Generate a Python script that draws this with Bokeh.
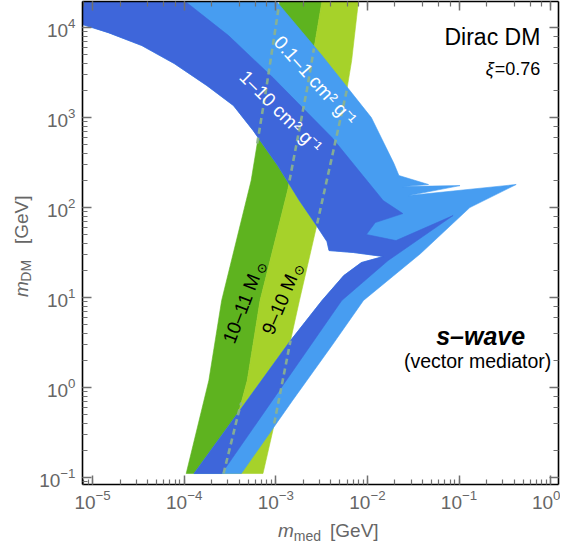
import math
import numpy as np
from bokeh.plotting import figure
from bokeh.layouts import row, column
from bokeh.models import Range1d, LogAxis, Label, CustomJSTickFormatter, LogTickFormatter, Div
from bokeh.embed import file_html
from bokeh.resources import INLINE

# ---------------- data: log10(m_med / GeV), log10(m_DM / GeV) ----------------
x_log_lim = [-5.11, 0.086]
y_log_lim = [-1.078, 4.29]

# halo-mass bands (edges listed from top to bottom)
halo_left_lx = [-2.935, -2.957, -3.108, -3.269, -3.591, -3.731, -3.978]
halo_left_ly = [4.411, 4.30, 3.30, 2.30, 0.967, 0.078, -0.956]
halo_mid_lx = [-2.473, -2.495, -2.656, -2.871, -3.172, -3.312, -3.409, -3.570]
halo_mid_ly = [4.411, 4.30, 3.333, 2.189, 0.967, 0.078, -0.289, -0.956]
halo_right_lx = [-2.065, -2.097, -2.172, -2.226, -2.548, -2.742, -2.839, -3.032, -3.140]
halo_right_ly = [4.411, 4.30, 3.633, 3.30, 1.822, 0.967, 0.522, -0.478, -0.956]

# parts of the halo edges that lie under the cross-section bands (log10 m_DM ranges)
left_hidden = [[2.711, 4.244]]
mid_hidden = [[2.30, 3.767], [-0.956, -0.167]]
right_hidden = [[1.822, 3.32], [-0.40, 0.522]]

# cross-section bands: common inner boundary (from the bottom, up to the left axis)
sig_inner_lx = [-3.892, -2.839, -2.495, -2.258, -2.065, -1.828, -2.151, -2.419, -2.441,
                -2.570, -2.742, -2.978, -3.247, -3.462, -3.753, -4.108, -4.462, -4.828,
                -5.108, -5.25]
sig_inner_ly = [-0.956, 0.522, 0.967, 1.244, 1.389, 1.456, 1.500, 1.522, 1.622,
                1.822, 2.078, 2.467, 2.856, 3.133, 3.356, 3.600, 3.800, 3.944,
                4.033, 4.08]
# outer edge of the 0.1-1 cm^2/g band (from the top left, round the tips, to the bottom)
sig01_outer_lx = [-5.25, -3.124, -3.0, -2.495, -1.957, -1.710, -1.656, -1.333, -1.613, -0.989,
                  -1.548, -0.376, -0.882, -1.419, -2.043, -2.387, -2.817, -3.376]
sig01_outer_ly = [4.45, 4.45, 4.30, 3.689, 3.0, 2.489, 2.356, 2.256, 2.233, 2.244,
                  2.133, 2.256, 2.0, 1.489, 0.967, 0.467, -0.144, -0.956]
# outer edge of the 1-10 cm^2/g band
sig1_outer_lx = [-5.25, -4.187, -4.0, -3.516, -3.032, -2.387, -2.032, -1.828, -1.613, -1.914,
                 -2.011, -1.688, -1.065, -1.774, -2.280, -3.591]
sig1_outer_ly = [4.45, 4.45, 4.30, 3.911, 3.444, 2.778, 2.333, 2.078, 1.933, 1.833,
                 1.700, 1.633, 1.911, 1.411, 0.967, -0.956]

# ---------------- layout (page pixels) ----------------
SHRINK = 8                   # the frame ends this far inside the requested right/bottom borders
LW = 36                      # strip for the y-axis title
MW, MH = 524, 528            # main plot
BH = 10                      # strip for the x-axis title
BL, BR, BT, BB = 43, 2, 1, 44
X0, Y0 = 8 + LW, 8
FL, FR = X0 + BL, X0 + MW - BR - SHRINK
FT, FB = Y0 + BT, Y0 + MH - BB - SHRINK
SH = MH + BH                 # height of the y-title strip


def dx(px):
    return 10 ** (x_log_lim[0] + (px - FL) / (FR - FL) * (x_log_lim[1] - x_log_lim[0]))


def dy(py):
    return 10 ** (y_log_lim[1] - (py - FT) / (FB - FT) * (y_log_lim[1] - y_log_lim[0]))


def pw(v):
    return [10 ** a for a in v]


DARK_GREEN = "#5eb31f"
LIGHT_GREEN = "#a6d22a"
DARK_BLUE = "#3e66da"
LIGHT_BLUE = "#479df1"
DASH = "#8db48c"
GRAY = "#666666"
FONT = "Liberation Sans"

p = figure(width=MW, height=MH, x_axis_type="log", y_axis_type="log",
           x_range=Range1d(10 ** x_log_lim[0], 10 ** x_log_lim[1]),
           y_range=Range1d(10 ** y_log_lim[0], 10 ** y_log_lim[1]),
           output_backend="svg", toolbar_location=None,
           min_border_left=BL, min_border_right=BR, min_border_top=BT, min_border_bottom=BB)
p.grid.visible = False
p.outline_line_color = None
p.background_fill_color = "white"
p.border_fill_color = "white"

blank = CustomJSTickFormatter(code="return '';")

p.add_layout(LogAxis(), "above")
p.add_layout(LogAxis(), "right")
for ax in p.axis:
    ax.axis_line_color = "black"
    ax.axis_line_width = 1.6
    ax.major_tick_in = 9
    ax.major_tick_out = 0
    ax.minor_tick_in = 5
    ax.minor_tick_out = 0
    ax.major_tick_line_color = "#707070"
    ax.major_tick_line_width = 1.5
    ax.minor_tick_line_color = "#707070"
    ax.minor_tick_line_width = 1.2
    ax.major_label_text_font = FONT
    ax.major_label_text_color = GRAY
    ax.major_label_text_font_size = "19px"
for ax in (p.xaxis[0], p.yaxis[0]):
    ax.formatter = LogTickFormatter()
for ax in (p.above[0], p.right[0]):
    ax.formatter = blank
    ax.major_label_text_font_size = "1px"
    ax.major_label_standoff = 0
p.xaxis[0].major_label_standoff = 7
p.yaxis[0].major_label_standoff = 7

# halo-mass bands
p.patch(pw(halo_left_lx + halo_mid_lx[::-1]), pw(halo_left_ly + halo_mid_ly[::-1]),
        fill_color=DARK_GREEN, line_color=DARK_GREEN, line_width=0.6)
p.patch(pw(halo_mid_lx + halo_right_lx[::-1]), pw(halo_mid_ly + halo_right_ly[::-1]),
        fill_color=LIGHT_GREEN, line_color=LIGHT_GREEN, line_width=0.6)

# cross-section bands
p.patch(pw(sig01_outer_lx + sig_inner_lx), pw(sig01_outer_ly + sig_inner_ly),
        fill_color=LIGHT_BLUE, line_color=LIGHT_BLUE, line_width=0.6)
p.patch(pw(sig1_outer_lx + sig_inner_lx), pw(sig1_outer_ly + sig_inner_ly),
        fill_color=DARK_BLUE, line_color=DARK_BLUE, line_width=0.6)

# halo edges that run underneath the blue bands, dashed
for ex, ey, ranges in ((halo_left_lx, halo_left_ly, left_hidden),
                       (halo_mid_lx, halo_mid_ly, mid_hidden),
                       (halo_right_lx, halo_right_ly, right_hidden)):
    for lo, hi in ranges:
        ys = np.linspace(lo, hi, 40)
        xs = np.interp(ys, ey[::-1], ex[::-1])
        p.line(10 ** xs, 10 ** ys, line_color=DASH, line_width=2.6, line_dash="6 4", line_alpha=0.9)


def lab(fig, x, y, text, size, color="black", style="normal", align="left", baseline="alphabetic",
        angle=0.0, xo=0.0, yo=0.0):
    fig.add_layout(Label(x=x, y=y, text=text, text_font=FONT, text_font_size=f"{size}px",
                         text_color=color, text_font_style=style, text_align=align,
                         text_baseline=baseline, angle=angle, x_offset=xo, y_offset=yo))


# band labels (positions in data coordinates)
lab(p, 10 ** -2.570, 10 ** 3.411, "0.1\u20131 cm\u00b2 g\u207b\u00b9", 19, "white",
    align="center", baseline="middle", angle=math.radians(-48))
lab(p, 10 ** -2.946, 10 ** 3.067, "1\u201310 cm\u00b2 g\u207b\u00b9", 19, "white",
    align="center", baseline="middle", angle=math.radians(-45))


def halo_label(lx, ly, main, deg, main_w):
    t = math.radians(deg)
    lab(p, 10 ** lx, 10 ** ly, main, 19, "black", align="left", baseline="middle", angle=t)
    ux, uy = math.cos(t), math.sin(t)
    dxs, dys = math.sin(t), -math.cos(t)
    ox = ux * (main_w + 2) + dxs * 4
    oy = uy * (main_w + 2) + dys * 4
    lab(p, 10 ** lx, 10 ** ly, "\u2299", 13, "black", align="left", baseline="middle", angle=t,
        xo=ox, yo=oy)


halo_label(-3.517, 0.501, "10\u201311 M", 69, 74)
halo_label(-3.093, 0.600, "9\u201310 M", 67, 63.5)

# corner texts (positions in page pixels)
lab(p, dx(540), dy(44), "Dirac DM", 23, "black", align="right")
lab(p, dx(540), dy(75), "=0.76", 18, "black", align="right")
lab(p, dx(494), dy(75), "\u03be", 18, "black", style="italic", align="right")
lab(p, dx(481), dy(338), "s\u2013wave", 25, "black", style="bold italic", align="center")
lab(p, dx(478), dy(363), "(vector mediator)", 19.5, "black", align="center")

# y-axis title strip: page x 8..8+LW, page y 8..8+SH
ly_fig = figure(width=LW, height=SH, x_range=Range1d(0, LW), y_range=Range1d(0, SH - SHRINK),
                output_backend="svg", toolbar_location=None, title=None,
                x_axis_location=None, y_axis_location=None,
                min_border=0, min_border_left=0, min_border_right=0,
                min_border_top=0, min_border_bottom=0)
ly_fig.grid.visible = False
ly_fig.outline_line_color = None
ly_fig.border_fill_color = "white"
up = math.pi / 2
lab(ly_fig, 29 - 8, SH - 300, "m", 19, GRAY, style="italic", angle=up)
lab(ly_fig, 33 - 8, SH - 285, "DM", 14, GRAY, angle=up)
lab(ly_fig, 29 - 8, SH - 248, "[GeV]", 19, GRAY, angle=up)

# x-axis title (HTML, so that it is not clipped by a plot frame)
x_title_html = (
    "<div style=\"position:relative;top:-4px;white-space:nowrap;"
    "font-family:'Liberation Sans',Arial,sans-serif;font-size:19px;line-height:13px;color:#666666;\">"
    f"<i style=\"margin-left:{278 - X0 + 8}px;\">m</i>"
    "<span style=\"font-size:14px;position:relative;top:4px;\">med</span>"
    "<span style=\"margin-left:9px;\">[GeV]</span></div>"
)
lx_div = Div(text=x_title_html, width=MW, height=BH, margin=(0, 0, 0, 0))

layout = row(ly_fig, column(p, lx_div, spacing=0), spacing=0)
open("out.html", "w", encoding="utf-8").write(file_html(layout, INLINE))
